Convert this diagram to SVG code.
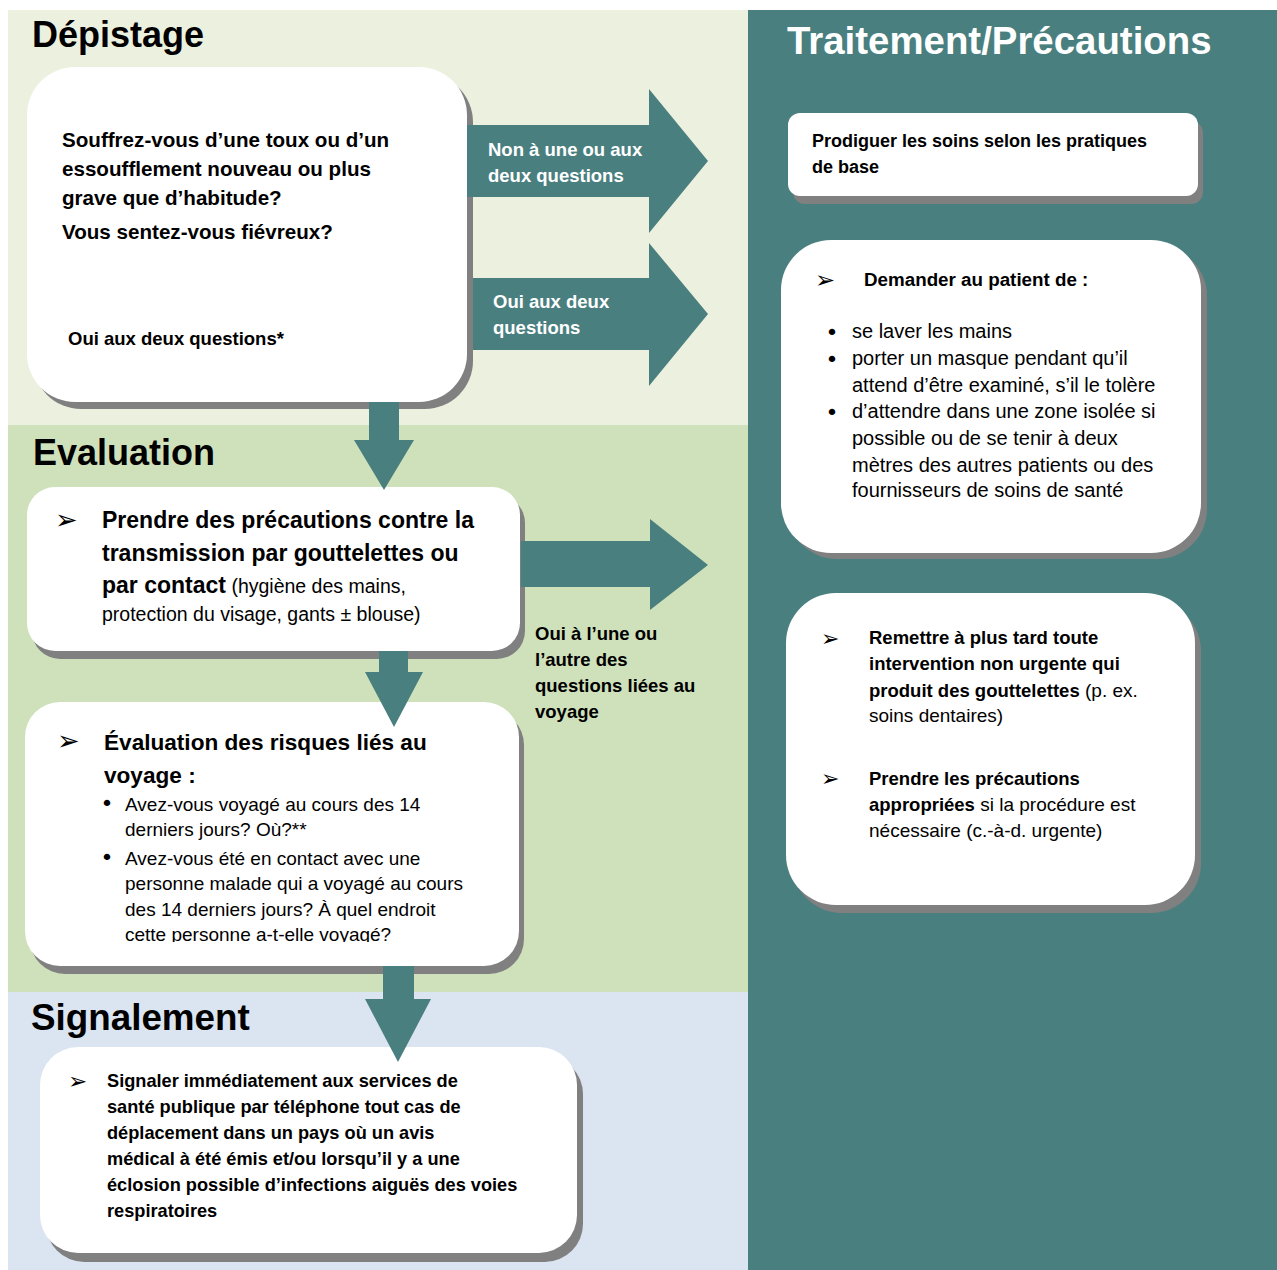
<svg xmlns="http://www.w3.org/2000/svg" width="1277" height="1270" viewBox="0 0 1277 1270">
<style>
text{font-family:"Liberation Sans",Arial,sans-serif;fill:#000}
.h{font-size:36px;font-weight:bold}
.b{font-weight:bold}
.w{fill:#fff}
.box{fill:#fff}
.sh{fill:#808080}
.arr{fill:#4A7F7F}
.blt{font-family:"DejaVu Sans",sans-serif}
.dot{font-family:"DejaVu Sans",sans-serif;font-size:22px}
</style>
<defs>
<clipPath id="clipEval2"><rect x="0" y="0" width="1277" height="942"/></clipPath>
</defs>
<rect width="1277" height="1270" fill="#fff"/>
<g id="sections">
<rect x="8" y="10" width="741" height="415" fill="#EBF1DE"/>
<rect x="8" y="425" width="741" height="567" fill="#CFE1BB"/>
<rect x="8" y="992" width="741" height="278" fill="#DBE5F1"/>
<rect x="748" y="10" width="529" height="1260" fill="#4A7F7F"/>
<text class="h" x="32" y="47">Dépistage</text>
<text class="h" x="33" y="465">Evaluation</text>
<text class="h" x="31" y="1030" style="font-size:36.8px">Signalement</text>
<text class="h w" x="787" y="54" style="font-size:38.4px">Traitement/Précautions</text>
</g>
<g id="node-depistage">
<rect class="sh" x="33" y="74" width="440" height="335" rx="48"/>
<rect class="box" x="27" y="67" width="440" height="335" rx="48"/>
<g class="b" style="font-size:20.6px">
<text x="62" y="147">Souffrez-vous d’une toux ou d’un</text>
<text x="62" y="176">essoufflement nouveau ou plus</text>
<text x="62" y="205">grave que d’habitude?</text>
<text x="62" y="239">Vous sentez-vous fiévreux?</text>
</g>
<text class="b" x="68" y="345" style="font-size:18.5px">Oui aux deux questions*</text>
</g>
<g id="node-precautions-contact">
<rect class="sh" x="32" y="495" width="493" height="164" rx="28"/>
<rect class="box" x="27" y="487" width="493" height="164" rx="28"/>
<text class="blt" x="55" y="529" style="font-size:27px">➢</text>
<g style="font-size:23px" class="b">
<text x="102" y="528">Prendre des précautions contre la</text>
<text x="102" y="561">transmission par gouttelettes ou</text>
<text x="102" y="593">par contact<tspan style="font-weight:normal;font-size:19.5px"> (hygiène des mains,</tspan></text>
</g>
<text x="102" y="621" style="font-size:19.5px">protection du visage, gants ± blouse)</text>
</g>
<g id="node-risques-voyage">
<rect class="sh" x="30" y="710" width="494" height="264" rx="35"/>
<rect class="box" x="25" y="702" width="494" height="264" rx="35"/>
<text class="blt" x="57" y="750" style="font-size:27px">➢</text>
<text class="b" x="104" y="750" style="font-size:22.6px">Évaluation des risques liés au</text>
<text class="b" x="104" y="783" style="font-size:22.6px">voyage :</text>
<text class="dot" x="100.5" y="811">•</text>
<text class="dot" x="100.5" y="865">•</text>
<g style="font-size:19px">
<text x="125" y="811">Avez-vous voyagé au cours des 14</text>
<text x="125" y="836">derniers jours? Où?**</text>
<text x="125" y="865">Avez-vous été en contact avec une</text>
<text x="125" y="890">personne malade qui a voyagé au cours</text>
<text x="125" y="916">des 14 derniers jours? À quel endroit</text>
<text x="125" y="941" clip-path="url(#clipEval2)">cette personne a-t-elle voyagé?</text>
</g>
</g>
<g id="node-signalement">
<rect class="sh" x="46" y="1056" width="537" height="206" rx="38"/>
<rect class="box" x="40" y="1047" width="537" height="206" rx="38"/>
<text class="blt" x="68" y="1089" style="font-size:23px">➢</text>
<g class="b" style="font-size:18.2px">
<text x="107" y="1087">Signaler immédiatement aux services de</text>
<text x="107" y="1113">santé publique par téléphone tout cas de</text>
<text x="107" y="1139">déplacement dans un pays où un avis</text>
<text x="107" y="1165">médical à été émis et/ou lorsqu’il y a une</text>
<text x="107" y="1191">éclosion possible d’infections aiguës des voies</text>
<text x="107" y="1217">respiratoires</text>
</g>
</g>
<g id="node-pratiques-base">
<rect class="sh" x="793" y="121" width="410" height="83" rx="12"/>
<rect class="box" x="788" y="113" width="410" height="83" rx="12"/>
<g class="b" style="font-size:18px">
<text x="812" y="147">Prodiguer les soins selon les pratiques</text>
<text x="812" y="173">de base</text>
</g>
</g>
<g id="node-demander-patient">
<rect class="sh" x="787" y="246" width="420" height="313" rx="50"/>
<rect class="box" x="781" y="240" width="420" height="313" rx="50"/>
<text class="blt" x="815" y="288" style="font-size:24px">➢</text>
<text class="b" x="864" y="286" style="font-size:18.8px">Demander au patient de :</text>
<text class="dot" x="825.5" y="340">•</text>
<text class="dot" x="825.5" y="367">•</text>
<text class="dot" x="825.5" y="420">•</text>
<g style="font-size:20px">
<text x="852" y="338">se laver les mains</text>
<text x="852" y="365">porter un masque pendant qu’il</text>
<text x="852" y="392">attend d’être examiné, s’il le tolère</text>
<text x="852" y="418">d’attendre dans une zone isolée si</text>
<text x="852" y="445">possible ou de se tenir à deux</text>
<text x="852" y="472">mètres des autres patients ou des</text>
<text x="852" y="497">fournisseurs de soins de santé</text>
</g>
</g>
<g id="node-interventions">
<rect class="sh" x="792" y="601" width="409" height="312" rx="50"/>
<rect class="box" x="786" y="593" width="409" height="312" rx="50"/>
<text class="blt" x="821" y="646" style="font-size:22px">➢</text>
<g style="font-size:18.5px">
<text class="b" x="869" y="644">Remettre à plus tard toute</text>
<text class="b" x="869" y="670">intervention non urgente qui</text>
<text class="b" x="869" y="697">produit des gouttelettes<tspan style="font-weight:normal;font-size:19px">  (p. ex.</tspan></text>
<text x="869" y="722" style="font-size:19px">soins dentaires)</text>
</g>
<text class="blt" x="821" y="786" style="font-size:22px">➢</text>
<g style="font-size:18.5px">
<text class="b" x="869" y="785">Prendre les précautions</text>
<text class="b" x="869" y="811">appropriées<tspan style="font-weight:normal;font-size:19px"> si la procédure est</tspan></text>
<text x="869" y="837" style="font-size:19px">nécessaire (c.-à-d. urgente)</text>
</g>
</g>
<g id="connectors">
<polygon class="arr" points="467,125 649,125 649,89 708,161 649,233 649,197 467,197"/>
<text class="b w" x="488" y="156" style="font-size:18.5px">Non à une ou aux</text>
<text class="b w" x="488" y="182" style="font-size:18.5px">deux questions</text>
<polygon class="arr" points="473,278 649,278 649,243 708,314 649,386 649,350 473,350"/>
<text class="b w" x="493" y="308" style="font-size:18.5px">Oui aux deux</text>
<text class="b w" x="493" y="334" style="font-size:18.5px">questions</text>
<polygon class="arr" points="521,541 650,541 650,519 708,565 650,610 650,587 521,587"/>
<g class="b" style="font-size:18.5px">
<text x="535" y="640">Oui à l’une ou</text>
<text x="535" y="666">l’autre des</text>
<text x="535" y="692">questions liées au</text>
<text x="535" y="718">voyage</text>
</g>
<polygon class="arr" points="369,402 399,402 399,440 414,440 384,490 354,440 369,440"/>
<polygon class="arr" points="379,651 408,651 408,672 423,672 394,727 365,672 379,672"/>
<polygon class="arr" points="383,966 414,966 414,999 431,999 398,1062 365,999 383,999"/>
</g>
</svg>
